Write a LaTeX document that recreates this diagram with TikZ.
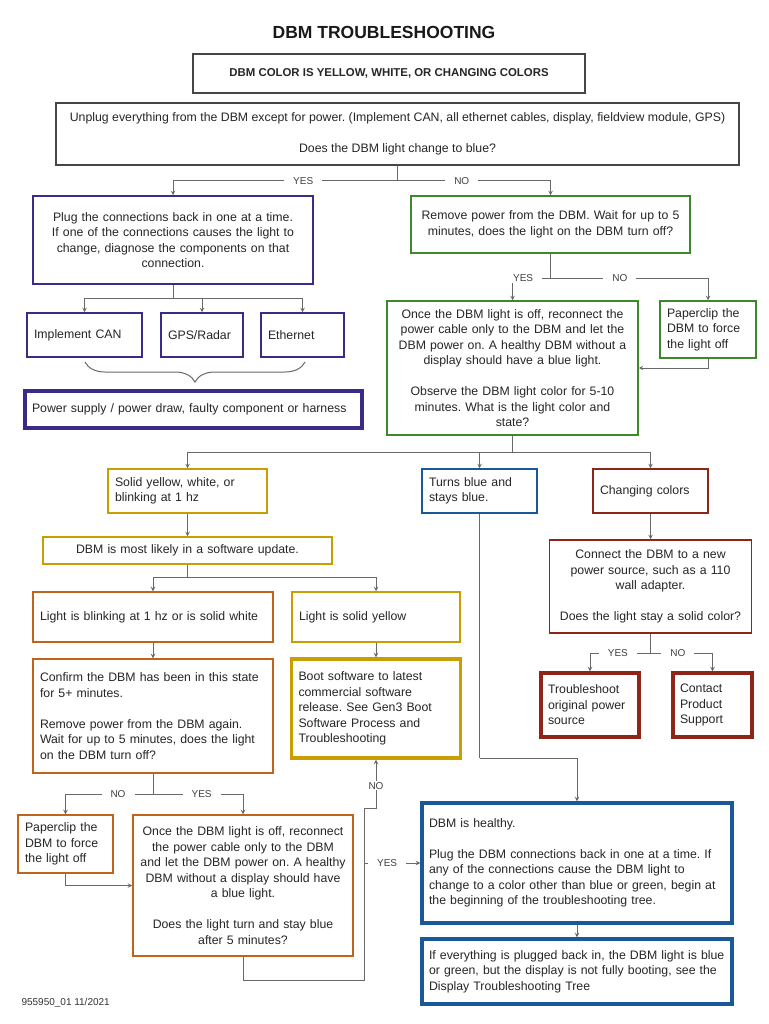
\documentclass[tikz,border=0pt]{standalone}
\usepackage{fontspec}
\setmainfont{Liberation Sans}
\usepackage{xcolor}
\usetikzlibrary{arrows,decorations.pathreplacing}

\definecolor{dbmedge}{RGB}{70,70,70}
\definecolor{dbmline}{RGB}{105,105,105}
\definecolor{dbmindigo}{RGB}{60,42,136}
\definecolor{dbmgreen}{RGB}{62,135,42}
\definecolor{dbmgold}{RGB}{200,158,0}
\definecolor{dbmorange}{RGB}{192,100,28}
\definecolor{dbmred}{RGB}{140,38,24}
\definecolor{dbmblue}{RGB}{26,88,154}
\frenchspacing

\begin{document}
\begin{tikzpicture}[
  x=1pt, y=-1pt,
  box/.style={draw=#1, fill=white, line width=1.5pt,
              inner xsep=7pt, inner ysep=3pt, align=left,
              font=\fontsize{12.3}{15.5}\selectfont, text=black!85},
  mid/.style={align=center},
  heavy/.style={line width=3.4pt},
  line/.style={draw=dbmline, line width=1pt},
  arr/.style={line, ->},
  lbl/.style={fill=white, inner xsep=9pt, inner ysep=1pt,
              font=\fontsize{10}{11}\selectfont, text=black!75},
  brc/.style={draw=dbmline, line width=1pt,
              decorate, decoration={brace, amplitude=20pt}},
  >=stealth
]
\fill[white] (0,0) rectangle (768,1024);
\useasboundingbox (0,0) rectangle (768,1024);

\node[font=\fontsize{17.5}{20}\selectfont\bfseries, text=black!90] (title) at (384,32) {DBM TROUBLESHOOTING};
\node[box=dbmedge, mid, minimum width=392, minimum height=39,
      font=\fontsize{11.4}{14}\selectfont\bfseries] (start) at (389,73.5)
  {DBM COLOR IS YELLOW, WHITE, OR CHANGING COLORS};
\node[box=dbmedge, mid, minimum width=683, minimum height=62] (unplug) at (397.5,134)
  {Unplug everything from the DBM except for power. (Implement CAN, all ethernet cables, display, fieldview module, GPS)\\[15.5pt]
   Does the DBM light change to blue?};

% yes side
\node[box=dbmindigo, mid, minimum width=280, minimum height=88, text width=266] (plug) at (173,240)
  {Plug the connections back in one at a time.\\ If one of the connections causes the light to\\ change, diagnose the components on that\\ connection.};
\node[box=dbmindigo, minimum width=115, minimum height=44, text width=101] (can) at (84.5,335) {Implement CAN};
\node[box=dbmindigo, minimum width=82, minimum height=44, text width=68] (gps) at (202,335) {GPS/Radar};
\node[box=dbmindigo, minimum width=83, minimum height=44, text width=69] (eth) at (302.5,335) {Ethernet};
\node[box=dbmindigo, heavy, minimum width=337, minimum height=37, text width=323] (power) at (193.5,409.5)
  {Power supply / power draw, faulty component or harness};

% no side
\node[box=dbmgreen, mid, minimum width=279, minimum height=57, text width=265] (remove) at (550.5,224.5)
  {Remove power from the DBM. Wait for up to 5\\ minutes, does the light on the DBM turn off?};
\node[box=dbmgreen, mid, minimum width=251, minimum height=134, text width=237] (once) at (512.5,368)
  {Once the DBM light is off, reconnect the\\ power cable only to the DBM and let the\\ DBM power on. A healthy DBM without a\\ display should have a blue light.\\[15.5pt]
   Observe the DBM light color for 5-10\\ minutes. What is the light color and\\ state?};
\node[box=dbmgreen, minimum width=96, minimum height=57, text width=82] (paper) at (708,329.5)
  {Paperclip the\\ DBM to force\\ the light off};

% light states
\node[box=dbmgold, minimum width=159, minimum height=44, text width=145] (solid) at (187.5,491)
  {Solid yellow, white, or\\ blinking at 1 hz};
\node[box=dbmblue, minimum width=115, minimum height=44, text width=101] (turns) at (479.5,491)
  {Turns blue and\\ stays blue.};
\node[box=dbmred, minimum width=115, minimum height=44, text width=101] (changing) at (650.5,491)
  {Changing colors};

\node[box=dbmgold, mid, minimum width=289, minimum height=27, text width=275] (software) at (187.5,550.5)
  {DBM is most likely in a software update.};
\node[box=dbmorange, minimum width=240, minimum height=50, text width=226] (blink) at (153,617)
  {Light is blinking at 1 hz or is solid white};
\node[box=dbmgold, minimum width=168, minimum height=50, text width=154] (syellow) at (376,617)
  {Light is solid yellow};
\node[box=dbmorange, minimum width=240, minimum height=114, text width=226] (confirm) at (153,716)
  {Confirm the DBM has been in this state\\ for 5+ minutes.\\[15.5pt]
   Remove power from the DBM again.\\ Wait for up to 5 minutes, does the light\\ on the DBM turn off?};
\node[box=dbmgold, heavy, minimum width=169, minimum height=99, text width=155] (boot) at (376,708.5)
  {Boot software to latest\\ commercial software\\ release. See Gen3 Boot\\ Software Process and\\ Troubleshooting};

\node[box=dbmred, mid, minimum width=202, minimum height=93, text width=188] (connect) at (650.5,586.5)
  {Connect the DBM to a new\\ power source, such as a 110\\ wall adapter.\\[15.5pt]
   Does the light stay a solid color?};
\node[box=dbmred, heavy, minimum width=98, minimum height=64, text width=84] (trouble) at (590,705)
  {Troubleshoot\\ original power\\ source};
\node[box=dbmred, heavy, minimum width=79, minimum height=64, text width=65] (contact) at (712.5,705)
  {Contact\\ Product\\ Support};

\node[box=dbmorange, minimum width=95, minimum height=58, text width=81] (paper2) at (65.5,844)
  {Paperclip the\\ DBM to force\\ the light off};
\node[box=dbmorange, mid, minimum width=220, minimum height=141, text width=206] (once2) at (243,885.5)
  {Once the DBM light is off, reconnect\\ the power cable only to the DBM\\ and let the DBM power on. A healthy\\ DBM without a display should have\\ a blue light.\\[15.5pt]
   Does the light turn and stay blue\\ after 5 minutes?};

\node[box=dbmblue, heavy, minimum width=310, minimum height=120, text width=296] (healthy) at (577,863)
  {DBM is healthy.\\[15.5pt]
   Plug the DBM connections back in one at a time. If\\ any of the connections cause the DBM light to\\ change to a color other than blue or green, begin at\\ the beginning of the troubleshooting tree.};
\node[box=dbmblue, heavy, minimum width=310, minimum height=65, text width=296] (display) at (577,971.5)
  {If everything is plugged back in, the DBM light is blue\\ or green, but the display is not fully booting, see the\\ Display Troubleshooting Tree};

\node[anchor=west, font=\fontsize{10}{12}\selectfont, text=black!80] (code) at (18,1003) {955950\_01 11/2021};

% junctions
\coordinate (j1) at (397.5,181);
\coordinate (j2) at (173,298);
\coordinate (j3) at (550.5,278);
\coordinate (j4) at (512.5,452);
\coordinate (j5) at (187.5,577);
\coordinate (j6) at (650.5,653);
\coordinate (j7) at (479.5,758);
\coordinate (j8) at (153,794);
\coordinate (j9) at (364,980);
\coordinate (j10) at (364,808);
\coordinate (j11) at (364,863);

\draw[line] (unplug) -- (j1);
\draw[arr] (j1) -| node[lbl, pos=0.21] {YES} (plug);
\draw[arr] (j1) -| node[lbl, pos=0.21] {NO} (remove);

\draw[line] (plug) -- (j2);
\draw[arr] (j2) -| (can);
\draw[arr] (j2) -| (gps);
\draw[arr] (j2) -| (eth);
\draw[brc] (305,362) -- (85,362);

\draw[line] (remove) -- (j3);
\draw[arr] (j3) -| node[lbl, pos=0.36] {YES} (once);
\draw[arr] (j3) -| node[lbl, pos=0.22] {NO} (paper);
\draw[arr] (paper) |- (once);

\draw[line] (once) -- (j4);
\draw[arr] (j4) -| (solid);
\draw[arr] (j4) -| (turns);
\draw[arr] (j4) -| (changing);

\draw[arr] (solid) -- (software);
\draw[line] (software) -- (j5);
\draw[arr] (j5) -| (blink);
\draw[arr] (j5) -| (syellow);
\draw[arr] (blink) -- (confirm);
\draw[arr] (syellow) -- (boot);

\draw[arr] (changing) -- (connect);
\draw[line] (connect) -- (j6);
\draw[arr] (j6) -| node[lbl, pos=0.27] {YES} (trouble);
\draw[arr] (j6) -| node[lbl, pos=0.22] {NO} (contact);

\draw[line] (turns) -- (j7);
\draw[arr] (j7) -| (healthy);
\draw[arr] (healthy) -- (display);

\draw[line] (confirm) -- (j8);
\draw[arr] (j8) -| node[lbl, pos=0.2] {NO} (paper2);
\draw[arr] (j8) -| node[lbl, pos=0.27] {YES} (once2);
\draw[arr] (paper2) |- (once2);

\draw[line] (once2) |- (j9) -- (j10);
\draw[arr] (j10) -| node[lbl, pos=0.73] {NO} (boot);
\draw[arr] (j11) -- node[lbl, pos=0.41] {YES} (healthy);
\end{tikzpicture}
\end{document}
